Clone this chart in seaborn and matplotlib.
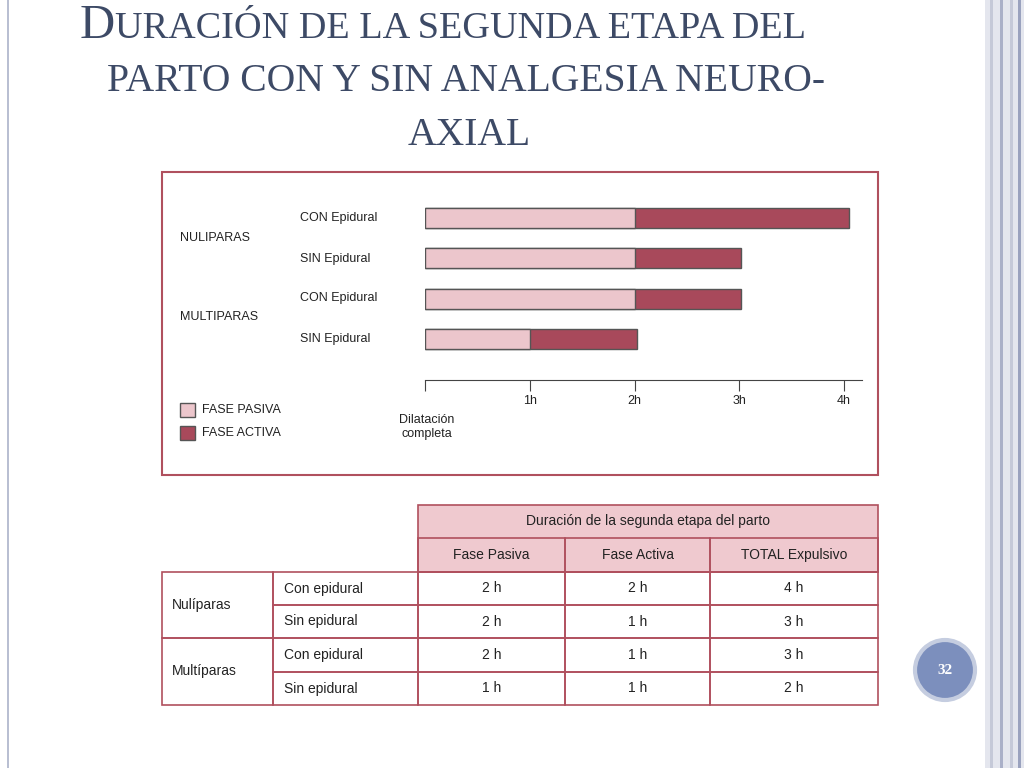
import matplotlib
matplotlib.use("Agg")
import matplotlib.pyplot as plt
from matplotlib.patches import Rectangle, Ellipse
import pandas as pd
import seaborn as sns

# data
grupos = ["NULIPARAS", "MULTIPARAS"]
filas = ["CON Epidural", "SIN Epidural", "CON Epidural", "SIN Epidural"]
fase_pasiva = [2, 2, 2, 1]
fase_activa = [2.05, 1.02, 1.02, 1.02]
tick_vals = [1, 2, 3, 4]
tick_labels = ["1h", "2h", "3h", "4h"]

tabla_grupos = ["Nulíparas", "Multíparas"]
tabla_sub = ["Con epidural", "Sin epidural", "Con epidural", "Sin epidural"]
tabla_pasiva = ["2 h", "2 h", "2 h", "1 h"]
tabla_activa = ["2 h", "1 h", "1 h", "1 h"]
tabla_total = ["4 h", "3 h", "3 h", "2 h"]

W, H = 1024, 768
C_PAS = "#ecc6cc"
C_ACT = "#a8495b"
C_RED = "#b0505e"
C_TXT = "#222222"
FONT = "Liberation Sans"

fig = plt.figure(figsize=(W / 100, H / 100), dpi=100)
fig.patch.set_facecolor("white")

def fx(x):
    return x / W

def fy(y):
    return 1 - y / H

def rect(x0, y0, x1, y1, **kw):
    fig.patches.append(Rectangle((fx(x0), fy(y1)), fx(x1 - x0), (y1 - y0) / H,
                                 transform=fig.transFigure, **kw))

def txt(x, y, s, **kw):
    kw.setdefault("family", FONT)
    kw.setdefault("color", C_TXT)
    fig.text(fx(x), fy(y), s, **kw)

# slide decorations
rect(985, 0, 1024, 768, facecolor="#e4e6ee", edgecolor="none")
for xs, c in [(990, "#c5c9d8"), (1000, "#aab0c8"), (1010, "#c5c9d8"), (1018, "#9aa2be")]:
    rect(xs, 0, xs + 3, 768, facecolor=c, edgecolor="none")
rect(7, 0, 9, 768, facecolor="#b9bfd2", edgecolor="none")

# title (fake small caps)
TCOL = "#3d4a66"
txt(80, 38, "D", fontsize=35, family="Liberation Serif", color=TCOL, va="baseline")
txt(115, 38, "URACIÓN DE LA SEGUNDA ETAPA DEL", fontsize=27.5, family="Liberation Serif",
    color=TCOL, va="baseline")
txt(466, 91, "PARTO CON Y SIN ANALGESIA NEURO-", fontsize=28.5, family="Liberation Serif",
    color=TCOL, va="baseline", ha="center")
txt(469, 145, "AXIAL", fontsize=28.5, family="Liberation Serif", color=TCOL,
    va="baseline", ha="center")

# chart frame
rect(162, 172, 878, 475, facecolor="none", edgecolor=C_RED, linewidth=1.5)

ax = fig.add_axes([fx(425), fy(380), fx(862 - 425), (380 - 200) / H])
df = pd.DataFrame({"fila": [f"{i}" for i in range(4)],
                   "pasiva": fase_pasiva,
                   "total": [p + a for p, a in zip(fase_pasiva, fase_activa)]})
sns.barplot(data=df, y="fila", x="total", orient="h", color=C_ACT, width=0.5,
            edgecolor="#555555", linewidth=1, ax=ax, saturation=1)
sns.barplot(data=df, y="fila", x="pasiva", orient="h", color=C_PAS, width=0.5,
            edgecolor="#555555", linewidth=1, ax=ax, saturation=1)
ax.set_xlim(0, 4.17)
ax.set_ylim(4.02, -0.45)
for s in ["top", "right", "left"]:
    ax.spines[s].set_visible(False)
ax.spines["bottom"].set_color("#444444")
ax.set_yticks([])
ax.set_xticks([0] + tick_vals)
ax.set_xticklabels([""] + tick_labels, family=FONT, fontsize=9, color=C_TXT)
ax.tick_params(axis="x", direction="out", length=8, color="#444444", pad=3)
ax.set_xlabel("")
ax.set_ylabel("")
ax.patch.set_alpha(0)

for f, yy in zip(filas, [218, 259, 298, 339]):
    txt(300, yy, f, fontsize=9, va="center")
txt(180, 238, grupos[0], fontsize=9, va="center")
txt(180, 317, grupos[1], fontsize=9, va="center")
txt(427, 427, "Dilatación\ncompleta", fontsize=9, ha="center", va="center")

rect(180, 403, 195, 417, facecolor=C_PAS, edgecolor="#555555")
rect(180, 426, 195, 440, facecolor=C_ACT, edgecolor="#555555")
txt(202, 410, "FASE PASIVA", fontsize=9, va="center")
txt(202, 433, "FASE ACTIVA", fontsize=9, va="center")

# table
LC = C_RED
rect(418, 505, 878, 572, facecolor="#efc9cf", edgecolor=LC, linewidth=1.2)
txt(648, 521, "Duración de la segunda etapa del parto", fontsize=10, ha="center", va="center")
cols = [418, 565, 710, 878]
for x0, x1, s in zip(cols[:-1], cols[1:], ["Fase Pasiva", "Fase Activa", "TOTAL Expulsivo"]):
    rect(x0, 538, x1, 572, facecolor="none", edgecolor=LC, linewidth=1.2)
    txt((x0 + x1) / 2, 555, s, fontsize=10, ha="center", va="center")
rows = [572, 605, 638, 672, 705]
for g, y0, y1 in zip(tabla_grupos, [572, 638], [638, 705]):
    rect(162, y0, 273, y1, facecolor="none", edgecolor=LC, linewidth=1.2)
    txt(172, (y0 + y1) / 2, g, fontsize=10, va="center")
for i in range(4):
    y0, y1 = rows[i], rows[i + 1]
    rect(273, y0, 418, y1, facecolor="none", edgecolor=LC, linewidth=1.2)
    txt(284, (y0 + y1) / 2, tabla_sub[i], fontsize=10, va="center")
    for x0, x1, v in zip(cols[:-1], cols[1:], [tabla_pasiva[i], tabla_activa[i], tabla_total[i]]):
        rect(x0, y0, x1, y1, facecolor="none", edgecolor=LC, linewidth=1.2)
        txt((x0 + x1) / 2, (y0 + y1) / 2, v, fontsize=10, ha="center", va="center")

# page number
fig.patches.append(Ellipse((fx(945), fy(670)), 60 / W, 60 / H, transform=fig.transFigure,
                           facecolor="#7c8fbd", edgecolor="#c5cde0", linewidth=3))
txt(945, 670, "32", fontsize=11, color="white", ha="center", va="center",
    family="Liberation Serif", weight="bold")

fig.savefig("out.png", dpi=100)
